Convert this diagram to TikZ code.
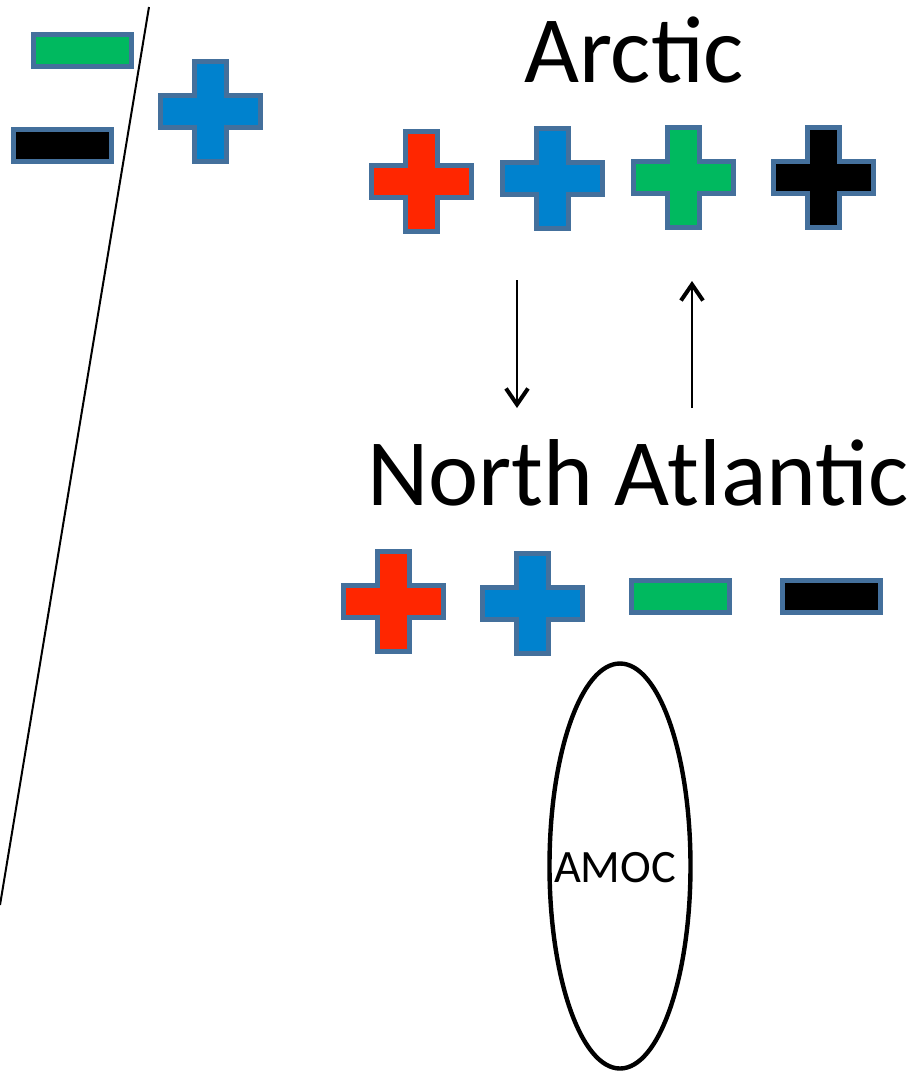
\documentclass[tikz,border=0pt]{standalone}
\usepackage{xcolor}
\usepackage{fontspec}
\setmainfont{Carlito}
\usepackage{tikz}
\usetikzlibrary{arrows.meta}

\definecolor{signred}{RGB}{255,38,0}
\definecolor{signblue}{RGB}{0,130,206}
\definecolor{signgreen}{RGB}{0,185,95}
\definecolor{signedge}{RGB}{68,112,156}

\newcommand{\titlesize}{\fontsize{47.5}{57}\selectfont}
\newcommand{\amocsize}{\fontsize{23.2}{28}\selectfont}

\tikzset{
  sign/.style={line width=2.5pt, draw=signedge, line join=miter},
  plus/.pic={\filldraw[sign, fill=#1] (-16,-50) -- (16,-50) -- (16,-16) -- (50,-16) -- (50,16) -- (16,16) -- (16,50) -- (-16,50) -- (-16,16) -- (-50,16) -- (-50,-16) -- (-16,-16) -- cycle;},
  minus/.pic={\filldraw[sign, fill=#1] (-49,-16) rectangle (49,16);},
  flux/.style={line width=1pt, -{Straight Barb[length=8pt,width=11pt,line width=2pt]}}
}

\begin{document}
\begin{tikzpicture}[x=0.5pt, y=-0.5pt]
\useasboundingbox (0,0) rectangle (911,1072);

%Divider
\draw[line width=1pt] (149,7) -- (0,905);

%Left signs
\pic (lgreen) at (82,50) {minus=signgreen};
\pic (lblack) at (62,145) {minus=black};
\pic (lblue) at (210,111) {plus=signblue};

%Arctic
\node[anchor=base, font=\titlesize, inner sep=0pt] (arctic) at (634,82) {Arctic};
\pic (ared) at (421,181) {plus=signred};
\pic (ablue) at (552,178) {plus=signblue};
\pic (agreen) at (683,177) {plus=signgreen};
\pic (ablack) at (823,177) {plus=black};

%Exchange
\coordinate (downstart) at (517,280);
\coordinate (downend) at (517,408);
\coordinate (upstart) at (692,408);
\coordinate (upend) at (692,281);
\draw[flux] (downstart) -- (downend);
\draw[flux] (upstart) -- (upend);

%North Atlantic
\node[anchor=base, font=\titlesize, inner sep=0pt] (natl) at (638,505) {North Atlantic};
\pic (nred) at (393,601) {plus=signred};
\pic (nblue) at (532,603) {plus=signblue};
\pic (ngreen) at (680,596) {minus=signgreen};
\pic (nblack) at (831,596) {minus=black};

%AMOC
\draw[line width=2.2pt] (620,866) ellipse [x radius=70.5, y radius=202.5];
\node[anchor=base, font=\amocsize, inner sep=0pt] (amoc) at (615,882) {AMOC};

\end{tikzpicture}
\end{document}
